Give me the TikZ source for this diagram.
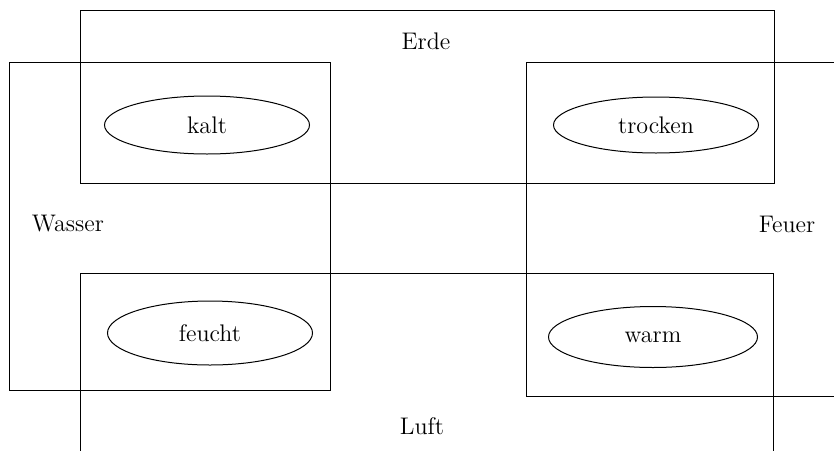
\documentclass[tikz,border=0pt]{standalone}
\usetikzlibrary{shapes.geometric}
\begin{document}
\begin{tikzpicture}[x=0.5pt,y=-0.5pt,
  every node/.style={font=\fontsize{12}{14}\selectfont},
  region/.style={draw=black,line width=0.5pt},
  quality/.style={draw=black,line width=0.5pt,ellipse,inner sep=0pt},
  elemlabel/.style={inner sep=0pt}]
\useasboundingbox (0,0) rectangle (834,450);
\clip (0,0) rectangle (834,450);
% element regions
\draw[region] (80,10.5) rectangle (774,183);   % Erde
\draw[region] (9.5,62) rectangle (330,390);    % Wasser
\draw[region] (526,62) rectangle (900,396);    % Feuer
\draw[region] (80,273) rectangle (773,520);    % Luft
% element labels
\node[elemlabel] (erde) at (426,41) {Erde};
\node[elemlabel] (wasser) at (68,224) {Wasser};
\node[elemlabel] (feuer) at (787,224) {Feuer};
\node[elemlabel] (luft) at (422,426) {Luft};
% qualities
\node[quality,minimum width=102.5pt,minimum height=29pt] (kalt) at (207,125) {kalt};
\node[quality,minimum width=102.5pt,minimum height=28pt] (trocken) at (656,125) {trocken};
\node[quality,minimum width=102.5pt,minimum height=32pt] (feucht) at (210,333) {feucht};
\node[quality,minimum width=104.5pt,minimum height=30.5pt] (warm) at (653,337) {warm};
\end{tikzpicture}
\end{document}
